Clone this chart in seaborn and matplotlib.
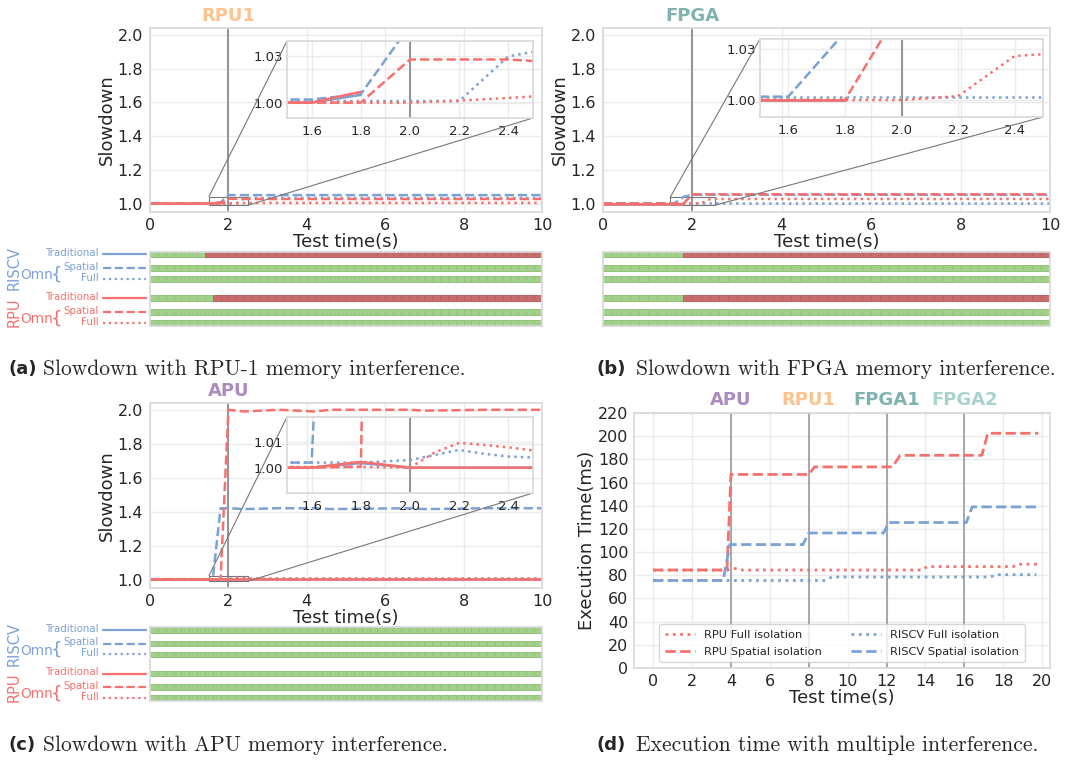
import numpy as np
import matplotlib
matplotlib.use("Agg")
import matplotlib.pyplot as plt
import seaborn as sns
from matplotlib.transforms import blended_transform_factory
from mpl_toolkits.axes_grid1.inset_locator import mark_inset

# ---------------- data ----------------
# (a) slowdown with RPU-1 interference
t_trad_a = [0, 1.6, 1.8]
riscv_trad_a = [1.0, 1.0, 1.005]
rpu_trad_a = [1.0, 1.0, 1.007]
t_a = [0, 1.6, 1.8, 2.0, 2.2, 2.4, 2.5, 10]
riscv_spatial_a = [1.002, 1.002, 1.0055, 1.05, 1.05, 1.05, 1.05, 1.05]
rpu_spatial_a = [1.0, 1.0, 1.0, 1.028, 1.028, 1.028, 1.027, 1.027]
riscv_full_a = [1.001, 1.001, 1.001, 1.001, 1.001, 1.030, 1.033, 1.033]
rpu_full_a = [1.0, 1.0, 1.0, 1.0, 1.0013, 1.003, 1.004, 1.004]

# (b) slowdown with FPGA interference
t_trad_b = [0, 1.6, 1.8]
riscv_trad_b = [1.0, 1.0, 1.0]
rpu_trad_b = [1.0, 1.0, 1.0]
t_b = [0, 1.6, 1.8, 2.0, 2.2, 2.4, 2.5, 10]
riscv_spatial_b = [1.002, 1.002, 1.04, 1.052, 1.052, 1.052, 1.052, 1.052]
rpu_spatial_b = [1.0, 1.0, 1.0, 1.055, 1.055, 1.055, 1.055, 1.055]
riscv_full_b = [1.002, 1.002, 1.002, 1.002, 1.002, 1.002, 1.002, 1.002]
rpu_full_b = [1.0, 1.0, 1.0, 1.0, 1.0023, 1.026, 1.027, 1.027]

# (c) slowdown with APU interference
t_trad_c = [0, 1.6, 1.8, 2.0, 10]
riscv_trad_c = [1.0, 1.0, 1.0018, 1.0, 1.0]
rpu_trad_c = [1.0, 1.0, 1.0023, 1.0, 1.0]
t_sp_c = [0, 1.6, 1.8, 2.0, 2.4, 3.3, 4.2, 4.6, 6.6, 7.0, 8.6, 10]
riscv_spatial_c = [1.002, 1.002, 1.42, 1.42, 1.415, 1.42, 1.42, 1.415, 1.42, 1.415, 1.42, 1.42]
rpu_spatial_c = [1.0, 1.0, 1.0004, 2.0, 1.99, 2.0, 1.99, 2.0, 2.0, 1.995, 2.0, 2.0]
t_full_c = [0, 1.6, 1.8, 2.0, 2.1, 2.2, 2.3, 2.4, 2.5, 2.6, 10]
riscv_full_c = [1.002, 1.002, 1.002, 1.003, 1.005, 1.007, 1.0055, 1.0044, 1.004, 1.004, 1.004]
rpu_full_c = [1.0003, 1.0003, 1.0003, 1.0, 1.006, 1.0098, 1.009, 1.008, 1.0068, 1.006, 1.006]

# status strips: cell index where the row turns to failure (None = always ok)
# rows: RISCV Traditional, Spatial, Full, RPU Traditional, Spatial, Full
n_cells = 50
fail_a = [7, None, None, 8, None, None]
fail_b = [9, None, None, 9, None, None]
fail_c = [None, None, None, None, None, None]

# (d) execution time with multiple interference
t_rpu_sp = [0, 3.8, 4.0, 8.0, 8.3, 12.3, 12.7, 16.9, 17.2, 19.8]
rpu_sp = [84.5, 84.5, 167, 167, 173.5, 173.5, 183.5, 183.5, 202.5, 202.5]
t_riscv_sp = [0, 3.6, 3.95, 7.7, 8.0, 11.85, 12.1, 16.1, 16.4, 19.8]
riscv_sp = [75.5, 75.5, 106.5, 106.5, 116.5, 116.5, 125.5, 125.5, 139, 139]
t_rpu_full = [0, 3.8, 4.3, 4.6, 13.8, 14.1, 18.5, 18.8, 19.8]
rpu_full = [84.5, 84.5, 86, 84.5, 84.5, 87.5, 87.5, 89.5, 89.5]
t_riscv_full = [0, 8.8, 9.2, 17.3, 17.7, 19.7]
riscv_full = [75.5, 75.5, 78.5, 78.5, 80.5, 80.5]
events_d = [4, 8, 12, 16]
event_names_d = ["APU", "RPU1", "FPGA1", "FPGA2"]

# ---------------- style ----------------
RED = "#f8706d"
BLUE = "#7ba1d5"
GREEN_CELL = "#a2cf8a"
RED_CELL = "#c86d6d"
EVENT_COLORS = {"APU": "#a98cc0", "RPU1": "#fdc38c", "FPGA": "#80b2b0",
                "FPGA1": "#80b2b0", "FPGA2": "#a8d2cd"}
SERIF = "cmr10"

sns.set_theme(style="whitegrid")
plt.rcParams["font.family"] = ["DejaVu Sans"]
plt.rcParams["axes.edgecolor"] = "#d9d9d9"
plt.rcParams["grid.color"] = "#ebebeb"

fig = plt.figure(figsize=(10.65, 7.6), dpi=100)
W, H = 1065.0, 760.0


def px_rect(x0, y0, x1, y1):
    return [x0 / W, 1 - y1 / H, (x1 - x0) / W, (y1 - y0) / H]


def slowdown_panel(rect, inset_rect, event, series, inset_ylim, inset_yticks):
    ax = fig.add_axes(px_rect(*rect))
    axins = fig.add_axes(px_rect(*inset_rect))
    for a in (ax, axins):
        for x, y, color, ls in series:
            sns.lineplot(x=x, y=y, ax=a, color=color, linestyle=ls, lw=1.8)
        a.axvline(2, color="#8c8c8c", lw=1.3, zorder=1)
    ax.set_xlim(0, 10)
    ax.set_ylim(0.95, 2.04)
    ax.set_xticks(range(0, 11, 2))
    ax.set_yticks([1.0, 1.2, 1.4, 1.6, 1.8, 2.0])
    ax.tick_params(labelsize=11.5, length=0)
    ax.tick_params(axis="x", pad=4)
    ax.tick_params(axis="y", pad=5)
    ax.set_xlabel("Test time(s)", fontsize=13, labelpad=0)
    ax.set_ylabel("Slowdown", fontsize=13, labelpad=1)
    ax.text(2, 1.015, event, transform=blended_transform_factory(ax.transData, ax.transAxes),
            ha="center", va="bottom", fontsize=13, fontweight="bold", color=EVENT_COLORS[event])

    axins.set_facecolor("none")
    axins.set_xlim(1.5, 2.5)
    axins.set_ylim(*inset_ylim)
    axins.set_xticks([1.6, 1.8, 2.0, 2.2, 2.4])
    axins.set_yticks(inset_yticks)
    axins.set_yticklabels([f"{v:.2f}" for v in inset_yticks])
    axins.tick_params(labelsize=9.5, length=0)
    axins.tick_params(axis="x", pad=5)
    axins.tick_params(axis="y", pad=3)
    axins.set_xlabel("")
    axins.set_ylabel("")
    mark_inset(ax, axins, loc1=2, loc2=4, fc="none", ec="#777777", lw=0.8)
    return ax


def status_panel(rect, fail, with_labels):
    ax = fig.add_axes(px_rect(*rect))
    ax.set_facecolor("none")
    row_pos = [0, 2.45, 4.4, 7.8, 10.25, 12.2]
    cells = np.arange(n_cells)
    for row, start in zip(row_pos, fail):
        bad = [start is not None and i >= start for i in cells]
        colors = [RED_CELL if b else GREEN_CELL for b in bad]
        edges = ["#b96262" if b else "#93c27b" for b in bad]
        ax.barh(np.full(n_cells, row), np.ones(n_cells), left=cells, height=1,
                color=colors, edgecolor=edges, linewidth=0.7)
    ax.set_xlim(0, n_cells)
    ax.set_ylim(12.7, -0.5)
    ax.set_xticks([])
    ax.set_yticks([])
    ax.grid(False)
    if not with_labels:
        return ax
    tr = blended_transform_factory(ax.transAxes, ax.transData)
    width = rect[2] - rect[0]

    def fx(px):
        return (px - rect[0]) / width

    groups = [("RISCV", BLUE, row_pos[0:3]), ("RPU", RED, row_pos[3:6])]
    for name, color, rows in groups:
        for r, lab, ls in zip(rows, ["Traditional", "Spatial", "Full"], ["-", "--", ":"]):
            ax.text(fx(99), r - 0.2, lab, transform=tr, ha="right", va="center",
                    fontsize=7.4, color=color, clip_on=False)
            ax.plot([fx(103), fx(146)], [r, r], transform=tr, color=color,
                    linestyle=ls, lw=1.6, clip_on=False)
        mid = (rows[1] + rows[2]) / 2 + 0.3
        ax.text(fx(20), mid, "Omn", transform=tr, ha="left", va="center",
                fontsize=9.8, color=color, clip_on=False)
        ax.text(fx(51), mid - 0.1, "{", transform=tr, ha="left", va="center",
                fontsize=13, color=color, clip_on=False)
        ax.text(fx(14), (rows[0] + rows[2]) / 2 + 0.3, name, transform=tr, rotation=90,
                ha="center", va="center", fontsize=10.5, color=color, clip_on=False)
    return ax


def caption(x_bold, x_text, y, tag, text):
    fig.text(x_bold / W, 1 - y / H, tag, fontsize=13, fontweight="bold",
             va="center", ha="left")
    fig.text(x_text / W, 1 - y / H, text, fontsize=15.5, family=SERIF,
             va="center", ha="left")


series_a = [
    (t_trad_a, riscv_trad_a, BLUE, "-"), (t_a, riscv_spatial_a, BLUE, "--"),
    (t_a, riscv_full_a, BLUE, ":"), (t_trad_a, rpu_trad_a, RED, "-"),
    (t_a, rpu_spatial_a, RED, "--"), (t_a, rpu_full_a, RED, ":"),
]
series_b = [
    (t_trad_b, riscv_trad_b, BLUE, "-"), (t_b, riscv_spatial_b, BLUE, "--"),
    (t_b, riscv_full_b, BLUE, ":"), (t_trad_b, rpu_trad_b, RED, "-"),
    (t_b, rpu_spatial_b, RED, "--"), (t_b, rpu_full_b, RED, ":"),
]
series_c = [
    (t_trad_c, riscv_trad_c, BLUE, "-"), (t_sp_c, riscv_spatial_c, BLUE, "--"),
    (t_full_c, riscv_full_c, BLUE, ":"), (t_trad_c, rpu_trad_c, RED, "-"),
    (t_sp_c, rpu_spatial_c, RED, "--"), (t_full_c, rpu_full_c, RED, ":"),
]

slowdown_panel((150, 28, 542, 212), (287, 41, 533, 118), "RPU1", series_a,
               (0.99, 1.04), [1.00, 1.03])
status_panel((150, 251.5, 542, 325.5), fail_a, True)
caption(8, 43, 369, "(a)", "Slowdown with RPU-1 memory interference.")

slowdown_panel((603, 28, 1050, 212), (760, 39, 1043, 117), "FPGA", series_b,
               (0.99, 1.036), [1.00, 1.03])
status_panel((603, 251.5, 1050, 325.5), fail_b, False)
caption(597, 636, 369, "(b)", "Slowdown with FPGA memory interference.")

slowdown_panel((150, 403, 542, 588), (287, 417, 533, 493), "APU", series_c,
               (0.99, 1.02), [1.00, 1.01])
status_panel((150, 627, 542, 701), fail_c, True)
caption(8, 43, 745, "(c)", "Slowdown with APU memory interference.")

# (d)
axd = fig.add_axes(px_rect(634, 413, 1050, 668))
for x in events_d:
    axd.axvline(x, color="#9a9a9a", lw=1.2, zorder=1)
sns.lineplot(x=t_rpu_full, y=rpu_full, ax=axd, color=RED, linestyle=":", lw=2,
             label="RPU Full isolation")
sns.lineplot(x=t_rpu_sp, y=rpu_sp, ax=axd, color=RED, linestyle="--", lw=2,
             label="RPU Spatial isolation")
sns.lineplot(x=t_riscv_full, y=riscv_full, ax=axd, color=BLUE, linestyle=":", lw=2,
             label="RISCV Full isolation")
sns.lineplot(x=t_riscv_sp, y=riscv_sp, ax=axd, color=BLUE, linestyle="--", lw=2,
             label="RISCV Spatial isolation")
axd.set_xlim(-0.98, 20.4)
axd.set_ylim(0, 220)
axd.set_xticks(range(0, 21, 2))
axd.set_yticks(range(0, 221, 20))
axd.tick_params(labelsize=11.5, length=0)
axd.tick_params(axis="x", pad=4)
axd.tick_params(axis="y", pad=4)
axd.set_xlabel("Test time(s)", fontsize=13, labelpad=0)
axd.set_ylabel("Execution Time(ms)", fontsize=13, labelpad=1)
tr_d = blended_transform_factory(axd.transData, axd.transAxes)
for x, name in zip(events_d, event_names_d):
    axd.text(x, 1.015, name, transform=tr_d, ha="center", va="bottom",
             fontsize=13, fontweight="bold", color=EVENT_COLORS[name])
axd.legend(loc="lower center", ncol=2, fontsize=8.2, handlelength=2.6,
           columnspacing=2.6, labelspacing=0.6, borderpad=0.5,
           borderaxespad=0.5, frameon=True)
caption(597, 636, 745, "(d)", "Execution time with multiple interference.")

fig.savefig("out.png", dpi=100)
